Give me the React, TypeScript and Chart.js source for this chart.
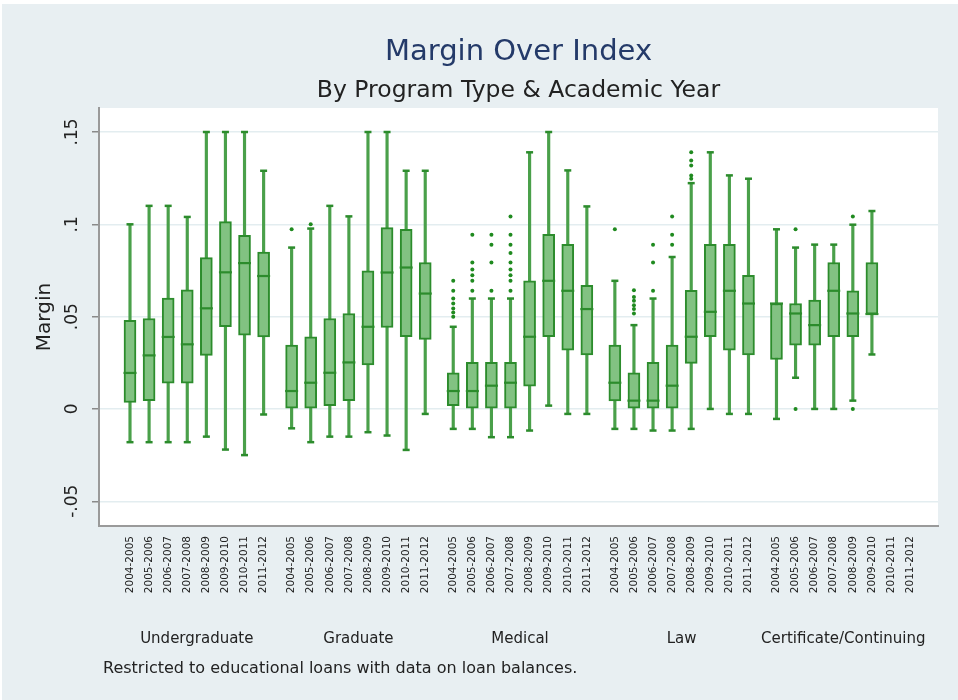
import React, { useEffect, useRef } from 'react';
import { Chart, registerables } from 'chart.js';

Chart.register(...registerables);

// ---------- data ----------
const YEARS = ['2004-2005', '2005-2006', '2006-2007', '2007-2008', '2008-2009', '2009-2010', '2010-2011', '2011-2012'];
const PROGRAMS = ['Undergraduate', 'Graduate', 'Medical', 'Law', 'Certificate/Continuing'];

// each row: [lower adjacent, q1, median, q3, upper adjacent] per academic year (null = no data)
const UNDERGRADUATE = [
  [-0.018, 0.0035, 0.0195, 0.048, 0.1],
  [-0.018, 0.0045, 0.029, 0.049, 0.11],
  [-0.018, 0.014, 0.039, 0.06, 0.11],
  [-0.018, 0.014, 0.035, 0.0645, 0.104],
  [-0.015, 0.029, 0.0545, 0.082, 0.15],
  [-0.022, 0.0445, 0.074, 0.1015, 0.15],
  [-0.025, 0.04, 0.079, 0.094, 0.15],
  [-0.003, 0.039, 0.072, 0.085, 0.129],
];
const GRADUATE = [
  [-0.0105, 0, 0.0097, 0.0346, 0.0874],
  [-0.018, 0, 0.0142, 0.0391, 0.0977],
  [-0.015, 0.0018, 0.0196, 0.049, 0.11],
  [-0.015, 0.0045, 0.0252, 0.0517, 0.1043],
  [-0.0126, 0.0238, 0.0445, 0.0748, 0.15],
  [-0.0144, 0.0441, 0.0739, 0.0982, 0.15],
  [-0.0222, 0.0391, 0.0766, 0.0973, 0.129],
  [-0.0027, 0.0377, 0.0625, 0.0793, 0.129],
];
const MEDICAL = [
  [-0.0108, 0.0018, 0.0097, 0.0196, 0.0445],
  [-0.0108, 0, 0.0097, 0.0252, 0.0598],
  [-0.0153, 0, 0.0126, 0.0252, 0.0598],
  [-0.0153, 0, 0.0142, 0.0252, 0.0598],
  [-0.0117, 0.0124, 0.0391, 0.0694, 0.139],
  [0.0018, 0.0391, 0.0694, 0.0946, 0.15],
  [-0.0027, 0.0319, 0.064, 0.0892, 0.1292],
  [-0.0027, 0.0292, 0.0541, 0.067, 0.1097],
];
const LAW = [
  [-0.0108, 0.0043, 0.0142, 0.0346, 0.0694],
  [-0.0108, 0, 0.0045, 0.0196, 0.0454],
  [-0.0117, 0, 0.0045, 0.0252, 0.0598],
  [-0.0117, 0, 0.0126, 0.0346, 0.0823],
  [-0.0108, 0.0247, 0.0391, 0.0643, 0.1223],
  [0, 0.0391, 0.0526, 0.0892, 0.139],
  [-0.0027, 0.0319, 0.064, 0.0892, 0.1265],
  [-0.0027, 0.0292, 0.0571, 0.0724, 0.1247],
];
const CERTIFICATE = [
  [-0.0054, 0.0268, 0.0571, 0.0571, 0.0973],
  [0.0169, 0.0346, 0.0517, 0.0571, 0.0874],
  [0, 0.0346, 0.0454, 0.0589, 0.089],
  [0, 0.0391, 0.064, 0.0793, 0.089],
  [0.0045, 0.0391, 0.0517, 0.064, 0.0998],
  [0.0295, 0.0514, 0.0514, 0.0793, 0.1072],
  null,
  null,
];

// outside values per academic year
const UNDERGRADUATE_OUT = [[], [], [], [], [], [], [], []];
const GRADUATE_OUT = [[0.0973], [0.1], [], [], [], [], [], []];
const MEDICAL_OUT = [
  [0.05, 0.0523, 0.0544, 0.0571, 0.0598, 0.064, 0.0694],
  [0.064, 0.0694, 0.0724, 0.0755, 0.0793, 0.0944],
  [0.064, 0.0793, 0.089, 0.0944],
  [0.064, 0.0694, 0.0724, 0.0755, 0.0793, 0.0845, 0.089, 0.0944, 0.1043],
  [], [], [], [],
];
const LAW_OUT = [
  [0.0973],
  [0.0517, 0.0541, 0.0562, 0.0586, 0.0607, 0.0643],
  [0.064, 0.0793, 0.089],
  [0.089, 0.0944, 0.1043],
  [0.1247, 0.1265, 0.1319, 0.1346, 0.139],
  [], [], [],
];
const CERTIFICATE_OUT = [[], [0, 0.0973], [], [], [0, 0.1043], [], [], []];

const Y_TICKS = [-0.05, 0, 0.05, 0.1, 0.15];

const TITLE = 'Margin Over Index';
const SUBTITLE = 'By Program Type & Academic Year';
const Y_TITLE = 'Margin';
const NOTE = 'Restricted to educational loans with data on loan balances.';

// ---------- layout / style ----------
const W = 958;
const H = 700;
const Y_MIN = -0.0634;
const Y_MAX = 0.163;
const GROUP_GAP = 0.467;
const X_MIN = -1.624;
const X_MAX = 42.33;
const FONT = '"DejaVu Sans", sans-serif';
const BG = '#e8eff2';
const GRID = '#e3edf0';
const BOX_FILL = '#82c282';
const BOX_LINE = '#2c8c2c';
const WHISKER = '#4aa04a';
const OUT_COLOR = '#1f8a1f';
const TITLE_COLOR = '#243a69';
const TEXT = '#222222';

const BOXES = [UNDERGRADUATE, GRADUATE, MEDICAL, LAW, CERTIFICATE];
const OUTLIERS = [UNDERGRADUATE_OUT, GRADUATE_OUT, MEDICAL_OUT, LAW_OUT, CERTIFICATE_OUT];

const slotPos = (g: number, i: number) => g * (YEARS.length + GROUP_GAP) + i;

const X_TICKS: number[] = [];
PROGRAMS.forEach((_, g) => YEARS.forEach((__, i) => X_TICKS.push(slotPos(g, i))));

const fmtY = (v: number) => {
  if (Math.abs(v) < 1e-12) return '0';
  return String(Math.round(v * 1000) / 1000).replace(/^(-?)0\./, '$1.');
};

const bgPlugin = {
  id: 'stataBackground',
  beforeDraw(chart: any) {
    const { ctx, chartArea } = chart;
    ctx.save();
    ctx.fillStyle = '#ffffff';
    ctx.fillRect(0, 0, W, H);
    ctx.fillStyle = BG;
    ctx.fillRect(2, 4, W - 2, H - 4);
    ctx.fillStyle = '#ffffff';
    ctx.fillRect(chartArea.left, chartArea.top, chartArea.right - chartArea.left, chartArea.bottom - chartArea.top);
    ctx.restore();
  },
};

const textPlugin = {
  id: 'stataText',
  afterDraw(chart: any) {
    const { ctx, chartArea, scales } = chart;
    const cx = (chartArea.left + chartArea.right) / 2;
    ctx.save();
    ctx.textAlign = 'center';
    ctx.textBaseline = 'alphabetic';
    ctx.fillStyle = TITLE_COLOR;
    ctx.font = `29px ${FONT}`;
    ctx.fillText(TITLE, cx, 60);
    ctx.fillStyle = TEXT;
    ctx.font = `23.5px ${FONT}`;
    ctx.fillText(SUBTITLE, cx, 97);
    ctx.font = `15px ${FONT}`;
    PROGRAMS.forEach((p, g) => {
      const x = scales.x.getPixelForValue(slotPos(g, (YEARS.length - 1) / 2));
      ctx.fillText(p, x, 643);
    });
    ctx.textAlign = 'left';
    ctx.font = `16px ${FONT}`;
    ctx.fillText(NOTE, 103, 673);
    ctx.restore();
  },
};

export default function App() {
  const ref = useRef<HTMLCanvasElement | null>(null);

  useEffect(() => {
    if (!ref.current) return;
    const whiskers: any[] = [];
    const boxes: any[] = [];
    const caps: any[] = [];
    const medians: any[] = [];
    const outs: any[] = [];
    BOXES.forEach((rows, g) => {
      rows.forEach((r, i) => {
        if (!r) return;
        const x = slotPos(g, i);
        const [mn, q1, md, q3, mx] = r;
        whiskers.push({ x, y: [mn, mx] });
        boxes.push({ x, y: [q1, q3] });
        caps.push({ x, y: mn }, { x, y: mx });
        medians.push({ x, y: md });
        (OUTLIERS[g][i] || []).forEach((v) => outs.push({ x, y: v }));
      });
    });

    const chart = new Chart(ref.current, {
      type: 'bar',
      data: {
        datasets: [
          {
            type: 'bar',
            data: whiskers,
            backgroundColor: WHISKER,
            borderWidth: 0,
            barThickness: 2.5,
            grouped: false,
            order: 4,
          } as any,
          {
            type: 'bar',
            data: boxes,
            backgroundColor: BOX_FILL,
            borderColor: BOX_LINE,
            borderWidth: 2,
            borderSkipped: false,
            barThickness: 12,
            grouped: false,
            order: 3,
          } as any,
          {
            type: 'scatter',
            data: caps,
            pointStyle: 'line',
            pointRadius: 3.5,
            pointBorderWidth: 2.5,
            pointBorderColor: BOX_LINE,
            order: 2,
          } as any,
          {
            type: 'scatter',
            data: medians,
            pointStyle: 'line',
            pointRadius: 6.5,
            pointBorderWidth: 2.2,
            pointBorderColor: BOX_LINE,
            order: 1,
          } as any,
          {
            type: 'scatter',
            data: outs,
            pointStyle: 'circle',
            pointRadius: 2,
            pointBackgroundColor: OUT_COLOR,
            pointBorderWidth: 0,
            order: 0,
          } as any,
        ],
      },
      options: {
        responsive: false,
        animation: false,
        events: [],
        layout: { padding: { top: 108, right: W - 938, bottom: 0, left: 0 } },
        plugins: { legend: { display: false }, tooltip: { enabled: false }, title: { display: false } },
        scales: {
          x: {
            type: 'linear',
            min: X_MIN,
            max: X_MAX,
            offset: false,
            grid: { display: false, drawTicks: false, offset: false },
            border: { display: true, color: '#9a9a9a', width: 2 },
            afterBuildTicks: (scale: any) => {
              scale.ticks = X_TICKS.map((v) => ({ value: v }));
            },
            afterFit: (scale: any) => {
              scale.height = H - 526;
            },
            ticks: {
              autoSkip: false,
              minRotation: 90,
              maxRotation: 90,
              padding: 10,
              color: TEXT,
              font: { family: FONT, size: 10.5 },
              callback: (_v: any, index: number) => YEARS[index % YEARS.length],
            },
          },
          y: {
            type: 'linear',
            min: Y_MIN,
            max: Y_MAX,
            afterBuildTicks: (scale: any) => {
              scale.ticks = Y_TICKS.map((v) => ({ value: v }));
            },
            afterFit: (scale: any) => {
              scale.width = 99;
            },
            grid: { color: GRID, lineWidth: 1.5, drawTicks: true, tickLength: 7, tickColor: '#8a8a8a', tickWidth: 1.5 },
            border: { display: true, color: '#9a9a9a', width: 2 },
            ticks: {
              minRotation: 90,
              maxRotation: 90,
              crossAlign: 'center',
              padding: 3,
              color: TEXT,
              font: { family: FONT, size: 17 },
              callback: (v: any) => fmtY(Number(v)),
            },
            title: {
              display: true,
              text: Y_TITLE,
              color: TEXT,
              font: { family: FONT, size: 20 },
              padding: { top: 33, bottom: 0 },
            },
          },
        },
      } as any,
      plugins: [bgPlugin, textPlugin],
    });
    return () => chart.destroy();
  }, []);

  return (
    <div style={{ position: 'absolute', left: 0, top: 0, width: W, height: H }}>
      <canvas ref={ref} width={W} height={H} style={{ display: 'block', width: W, height: H }} />
    </div>
  );
}
